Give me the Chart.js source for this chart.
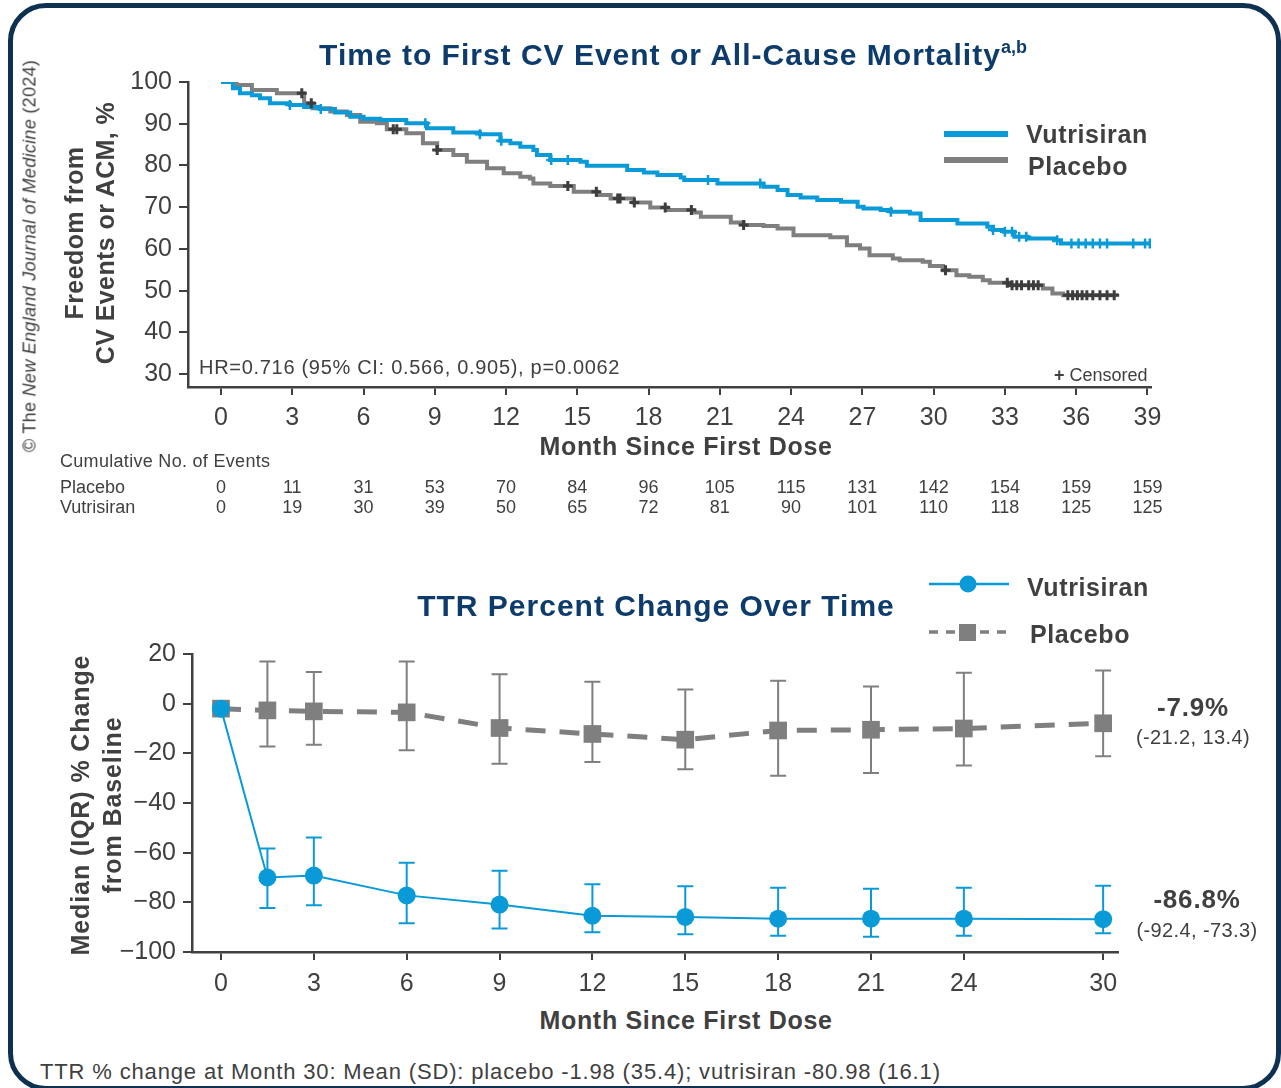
<!DOCTYPE html>
<html>
<head>
<meta charset="utf-8">
<script src="https://cdn.jsdelivr.net/npm/chart.js@4.4.1/dist/chart.umd.min.js"></script>
<style>
  body { margin: 0; background: #fff; font-family: "Liberation Sans", Arial, sans-serif; color: #404040; }
  #page { position: relative; width: 1281px; height: 1088px; overflow: hidden; }
  #frame { position: absolute; left: 8px; top: 3px; width: 1263px; height: 1078px; border: 5px solid #0e3152; border-radius: 38px; }
  canvas { position: absolute; left: 0; }
  .t { position: absolute; white-space: nowrap; transform: translate(0, -50%); }
  .c { position: absolute; white-space: nowrap; transform: translate(-50%, -50%); }
  .r { position: absolute; white-space: nowrap; transform: translate(-50%, -50%) rotate(-90deg); }
  .title { font-size: 30px; font-weight: bold; color: #0d3c6c; letter-spacing: 1px; }
  .title sup { font-size: 18px; vertical-align: 12px; line-height: 0; letter-spacing: 0; }
  .axt { font-size: 25px; font-weight: bold; color: #404040; }
  .leg { font-size: 25px; font-weight: bold; color: #404040; letter-spacing: 0.6px; }
  .small { font-size: 18px; color: #404040; }
</style>
</head>
<body>
<div id="page">
  <div id="frame"></div>
  <canvas id="kmChart" width="1281" height="530" style="top:0"></canvas>
  <canvas id="ttrChart" width="1281" height="400" style="top:600px"></canvas>

  <div class="c title" style="left:673px;top:55px">Time to First CV Event or All-Cause Mortality<sup>a,b</sup></div>
  <div class="r" style="left:30px;top:256px;font-size:18px;letter-spacing:0.3px;color:#404040">© The <i>New England Journal of Medicine</i> (2024)</div>
  <div class="r axt" style="left:74px;top:233px;letter-spacing:0.4px">Freedom from</div>
  <div class="r axt" style="left:105px;top:233px;letter-spacing:0.4px">CV Events or ACM, %</div>
  <div class="c axt" style="left:686px;top:446px;letter-spacing:0.7px">Month Since First Dose</div>
  <div class="t" style="left:199px;top:367px;font-size:20px;letter-spacing:0.7px">HR=0.716 (95% CI: 0.566, 0.905), p=0.0062</div>
  <div class="t small" style="left:1054px;top:375px"><b>+</b> Censored</div>

  <div style="position:absolute;left:944px;top:131px;width:64px;height:6px;background:#0a9ad8"></div>
  <div style="position:absolute;left:944px;top:157px;width:64px;height:6px;background:#7f7f7f"></div>
  <div class="t leg" style="left:1026px;top:134px">Vutrisiran</div>
  <div class="t leg" style="left:1028px;top:166px">Placebo</div>

  <div class="t small" style="left:60px;top:461px;letter-spacing:0.3px">Cumulative No. of Events</div>
  <div class="t small" style="left:60px;top:487px">Placebo</div>
  <div class="t small" style="left:60px;top:507px">Vutrisiran</div>
  <div id="riskTable"></div>

  <div class="c title" style="left:656px;top:606px">TTR Percent Change Over Time</div>
  <svg style="position:absolute;left:920px;top:570px" width="100" height="80">
    <line x1="9" y1="14" x2="89" y2="14" stroke="#0a9ad8" stroke-width="2.5"/>
    <circle cx="48" cy="14" r="8.5" fill="#0a9ad8"/>
    <line x1="9" y1="62" x2="89" y2="62" stroke="#7f7f7f" stroke-width="3.5" stroke-dasharray="9 8"/>
    <rect x="39" y="54" width="17" height="17" fill="#7f7f7f"/>
  </svg>
  <div class="t leg" style="left:1027px;top:587px">Vutrisiran</div>
  <div class="t leg" style="left:1030px;top:634px">Placebo</div>
  <div class="r axt" style="left:80px;top:805px;letter-spacing:0.9px">Median (IQR) % Change</div>
  <div class="r axt" style="left:112px;top:805px;letter-spacing:0.9px">from Baseline</div>
  <div class="c" style="left:1193px;top:707px;font-size:26px;font-weight:bold;letter-spacing:0.8px">-7.9%</div>
  <div class="c" style="left:1193px;top:737px;font-size:20px;letter-spacing:0.4px">(-21.2, 13.4)</div>
  <div class="c" style="left:1197px;top:899px;font-size:26px;font-weight:bold;letter-spacing:0.8px">-86.8%</div>
  <div class="c" style="left:1197px;top:930px;font-size:20px;letter-spacing:0.4px">(-92.4, -73.3)</div>
  <div class="c axt" style="left:686px;top:1020px;letter-spacing:0.7px">Month Since First Dose</div>
  <div class="t" style="left:40px;top:1072px;font-size:22px;letter-spacing:0.85px">TTR % change at Month 30: Mean (SD): placebo -1.98 (35.4); vutrisiran -80.98 (16.1)</div>
</div>

<script>
// цвета
const BLUE = '#0a9ad8';
const GRAY = '#7f7f7f';
const DARK = '#3d3d3d';
const AXIS = '#404040';
Chart.defaults.font.family = "'Liberation Sans', Arial, sans-serif";
Chart.defaults.color = AXIS;

// --- Kaplan-Meier, months / % free of event ---
const kmMonthTicks = [0, 3, 6, 9, 12, 15, 18, 21, 24, 27, 30, 33, 36, 39];
const kmPercentTicks = [30, 40, 50, 60, 70, 80, 90, 100];

const vutTime = [0, 0.5, 0.8, 1.3, 1.64, 2.06, 2.9, 3.5, 4.17, 4.8, 5.44, 6.0, 6.7, 7.8, 8.67, 9.78, 10.9, 11.76, 12.18, 12.6, 13.15, 13.3, 13.86, 15.13, 15.4, 17.1, 17.8, 18.37, 19.35, 19.5, 20.9, 22.84, 23.43, 23.85, 24.4, 25.1, 26.1, 26.8, 27.05, 27.77, 28.2, 29.0, 29.45, 31.0, 32.26, 32.5, 32.96, 33.4, 33.95, 35.07, 35.36, 39.1];
const vutSurv = [100, 98.5, 97.3, 96.8, 96.1, 94.9, 94.5, 94.0, 93.5, 92.7, 91.7, 91.2, 90.9, 90.1, 88.9, 87.9, 87.5, 85.9, 85.3, 84.5, 83.7, 82.5, 81.3, 80.9, 79.9, 78.9, 78.3, 77.7, 77.1, 76.5, 75.7, 74.9, 74.1, 72.9, 72.3, 71.7, 71.3, 70.1, 69.7, 69.3, 68.9, 68.5, 66.9, 66.1, 65.3, 64.5, 64.1, 62.9, 62.5, 62.1, 61.3, 61.3];

const pboTime = [0, 0.66, 1.3, 2.35, 3.5, 3.85, 4.6, 5.3, 5.86, 6.56, 6.98, 7.8, 8.5, 9.1, 9.78, 10.35, 11.2, 11.9, 12.6, 13.0, 13.15, 13.86, 14.85, 15.84, 16.4, 17.36, 18.07, 18.77, 19.9, 20.2, 21.46, 22.0, 22.84, 23.43, 24.1, 25.65, 26.35, 26.9, 27.3, 28.28, 28.57, 29.54, 29.84, 30.4, 30.96, 31.5, 32.07, 32.36, 33.2, 34.6, 35.0, 35.45, 37.7];
const pboSurv = [100, 99.3, 98.1, 97.3, 94.9, 93.7, 92.9, 92.1, 90.5, 90.1, 88.7, 87.7, 85.3, 83.7, 82.5, 80.9, 79.3, 78.1, 77.3, 76.9, 75.7, 75.1, 73.7, 72.9, 72.1, 71.1, 69.9, 69.3, 68.7, 67.7, 66.3, 65.7, 65.5, 64.9, 63.3, 62.8, 60.9, 60.1, 58.5, 57.7, 57.3, 56.9, 55.9, 54.9, 53.7, 53.3, 52.5, 51.9, 51.3, 50.5, 49.3, 48.9, 48.7];

// censored times
const vutCensored = [2.9, 4.2, 8.6, 10.9, 11.8, 13.9, 14.6, 20.5, 22.7, 28.2, 32.5, 33.0, 33.3, 33.6, 33.9, 35.2, 35.8, 36.1, 36.4, 36.7, 37.0, 37.3, 38.4, 38.9, 39.1];
const pboCensored = [3.4, 3.8, 7.25, 7.4, 9.1, 14.6, 15.8, 16.7, 16.8, 17.4, 18.7, 19.8, 22.0, 30.5, 33.1, 33.3, 33.5, 33.7, 34.0, 34.2, 34.4, 35.65, 35.85, 36.05, 36.25, 36.45, 36.7, 37.0, 37.3, 37.6];

// cumulative no. of events
const pboEvents = [0, 11, 31, 53, 70, 84, 96, 105, 115, 131, 142, 154, 159, 159];
const vutEvents = [0, 19, 30, 39, 50, 65, 72, 81, 90, 101, 110, 118, 125, 125];

// --- TTR percent change ---
const ttrMonths = [0, 1.5, 3, 6, 9, 12, 15, 18, 21, 24, 30];
const ttrMonthTicks = [0, 3, 6, 9, 12, 15, 18, 21, 24, 30];
const ttrPercentTicks = [-100, -80, -60, -40, -20, 0, 20];
const vutMedian = [-2.0, -70.0, -69.2, -77.2, -80.9, -85.4, -85.9, -86.6, -86.6, -86.6, -86.8];
const vutQ1 = [null, -82.3, -81.2, -88.4, -90.5, -92.0, -92.9, -93.5, -93.9, -93.5, -92.4];
const vutQ3 = [null, -58.3, -53.9, -64.1, -67.3, -72.7, -73.5, -74.1, -74.5, -74.1, -73.3];
const pboMedian = [-2.0, -2.7, -3.1, -3.5, -9.8, -12.2, -14.5, -10.8, -10.5, -10.0, -7.9];
const pboQ1 = [null, -17.2, -16.5, -18.8, -24.2, -23.5, -26.4, -29.0, -27.9, -24.9, -21.2];
const pboQ3 = [null, 17.0, 12.8, 17.0, 11.8, 8.8, 5.7, 9.2, 6.9, 12.4, 13.4];

// значение ступенчатой кривой в момент t
function stepAt(times, surv, t) {
  let v = surv[0];
  for (let i = 0; i < times.length; i++) if (times[i] <= t) v = surv[i];
  return v;
}

// axis after month 24 is compressed (24 -> 30 takes 1.5 intervals)
function ttrAxisPos(m) {
  return m <= 24 ? m / 3 : 8 + (m - 24) / 4;
}

const tickFont = { size: 25 };

const kmChart = new Chart(document.getElementById('kmChart'), {
  type: 'line',
  data: {
    datasets: [
      {
        label: 'Vutrisiran censored',
        data: vutCensored.map(t => ({ x: t, y: stepAt(vutTime, vutSurv, t) })),
        showLine: false, pointStyle: 'cross', pointRadius: 5, borderColor: BLUE, borderWidth: 2.5, order: 1
      },
      {
        label: 'Placebo censored',
        data: pboCensored.map(t => ({ x: t, y: stepAt(pboTime, pboSurv, t) })),
        showLine: false, pointStyle: 'cross', pointRadius: 5, borderColor: DARK, borderWidth: 3, order: 2
      },
      {
        label: 'Vutrisiran',
        data: vutTime.map((t, i) => ({ x: t, y: vutSurv[i] })),
        stepped: 'before', borderColor: BLUE, borderWidth: 4, pointRadius: 0, order: 3
      },
      {
        label: 'Placebo',
        data: pboTime.map((t, i) => ({ x: t, y: pboSurv[i] })),
        stepped: 'before', borderColor: GRAY, borderWidth: 4, pointRadius: 0, order: 4
      }
    ]
  },
  options: {
    responsive: false,
    animation: false,
    events: [],
    layout: { padding: { left: 113, top: 82, right: 130, bottom: 103 } },
    plugins: { legend: { display: false }, tooltip: { enabled: false } },
    scales: {
      x: {
        type: 'linear', min: -1.39, max: 39.15,
        afterBuildTicks: ax => { ax.ticks = kmMonthTicks.map(v => ({ value: v })); },
        afterFit: ax => { ax.height = 40; },
        ticks: { font: tickFont, color: AXIS, padding: 8, maxRotation: 0, autoSkip: false },
        grid: { drawOnChartArea: false, tickLength: 8, color: AXIS, lineWidth: 2 },
        border: { color: AXIS, width: 2.5 }
      },
      y: {
        min: 26.9, max: 100,
        afterBuildTicks: ax => { ax.ticks = kmPercentTicks.map(v => ({ value: v })); },
        afterFit: ax => { ax.width = 75; },
        ticks: { font: tickFont, color: AXIS, padding: 7 },
        grid: { drawOnChartArea: false, tickLength: 9, color: AXIS, lineWidth: 2 },
        border: { color: AXIS, width: 2.5 }
      }
    }
  }
});

// таблица событий под осью
const xs = kmChart.scales.x;
const table = document.getElementById('riskTable');
kmMonthTicks.forEach((m, i) => {
  const px = xs.getPixelForValue(m);
  [[pboEvents[i], 487], [vutEvents[i], 507]].forEach(([val, y]) => {
    const d = document.createElement('div');
    d.className = 'c small';
    d.style.left = px + 'px';
    d.style.top = y + 'px';
    d.textContent = val;
    table.appendChild(d);
  });
});

// error bars (IQR)
const errorBars = {
  id: 'errorBars',
  beforeDatasetsDraw(chart) {
    const ctx = chart.ctx;
    const y = chart.scales.y;
    chart.data.datasets.forEach((ds, di) => {
      if (!ds.lo) return;
      const meta = chart.getDatasetMeta(di);
      ctx.save();
      ctx.strokeStyle = ds.barColor;
      ctx.lineWidth = 2;
      meta.data.forEach((pt, i) => {
        if (ds.lo[i] == null) return;
        const y1 = y.getPixelForValue(ds.lo[i]);
        const y2 = y.getPixelForValue(ds.hi[i]);
        ctx.beginPath();
        ctx.moveTo(pt.x, y1); ctx.lineTo(pt.x, y2);
        ctx.moveTo(pt.x - 8, y1); ctx.lineTo(pt.x + 8, y1);
        ctx.moveTo(pt.x - 8, y2); ctx.lineTo(pt.x + 8, y2);
        ctx.stroke();
      });
      ctx.restore();
    });
  }
};

new Chart(document.getElementById('ttrChart'), {
  type: 'line',
  data: {
    datasets: [
      {
        label: 'Vutrisiran',
        data: ttrMonths.map((m, i) => ({ x: ttrAxisPos(m), y: vutMedian[i] })),
        lo: vutQ1, hi: vutQ3, barColor: BLUE,
        borderColor: BLUE, borderWidth: 2, backgroundColor: BLUE,
        pointStyle: 'circle', pointRadius: 9, pointBorderWidth: 0, order: 1
      },
      {
        label: 'Placebo',
        data: ttrMonths.map((m, i) => ({ x: ttrAxisPos(m), y: pboMedian[i] })),
        lo: pboQ1, hi: pboQ3, barColor: GRAY,
        borderColor: GRAY, borderWidth: 5, borderDash: [20, 14], backgroundColor: GRAY,
        pointStyle: 'rect', pointRadius: 12.5, pointBorderWidth: 0, order: 2
      }
    ]
  },
  plugins: [errorBars],
  options: {
    responsive: false,
    animation: false,
    events: [],
    layout: { padding: { left: 102, top: 54, right: 163, bottom: 8 } },
    plugins: { legend: { display: false }, tooltip: { enabled: false } },
    scales: {
      x: {
        type: 'linear', min: -0.312, max: 9.66,
        afterBuildTicks: ax => { ax.ticks = ttrMonthTicks.map(m => ({ value: ttrAxisPos(m) })); },
        afterFit: ax => { ax.height = 40; },
        ticks: {
          font: tickFont, color: AXIS, padding: 9, maxRotation: 0, autoSkip: false,
          callback: v => ttrMonthTicks.find(m => Math.abs(ttrAxisPos(m) - v) < 1e-6)
        },
        grid: { drawOnChartArea: false, tickLength: 8, color: AXIS, lineWidth: 2 },
        border: { color: AXIS, width: 2.5 }
      },
      y: {
        min: -100, max: 20,
        afterBuildTicks: ax => { ax.ticks = ttrPercentTicks.map(v => ({ value: v })); },
        afterFit: ax => { ax.width = 90; },
        ticks: { font: tickFont, color: AXIS, padding: 7, callback: v => v < 0 ? '\u2212' + Math.abs(v) : String(v) },
        grid: { drawOnChartArea: false, tickLength: 9, color: AXIS, lineWidth: 2 },
        border: { color: AXIS, width: 2.5 }
      }
    }
  }
});
</script>
</body>
</html>
